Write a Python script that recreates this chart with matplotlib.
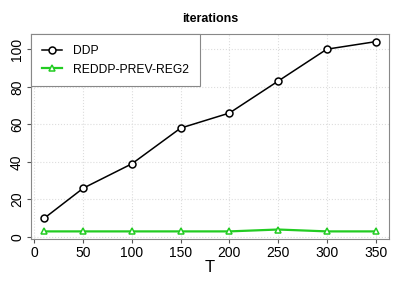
import numpy as np
import matplotlib
matplotlib.use('Agg')
import matplotlib.pyplot as plt

plt.rcParams['font.family'] = ['Liberation Sans', 'DejaVu Sans']

T = [10, 50, 100, 150, 200, 250, 300, 350]
ddp = [10, 26, 39, 58, 66, 83, 100, 104]
reddp = [3, 3, 3, 3, 3, 4, 3, 3]
xticks = [0, 50, 100, 150, 200, 250, 300, 350]
yticks = [0, 20, 40, 60, 80, 100]

fig = plt.figure(figsize=(4.05, 2.84), dpi=100)
ax = fig.add_axes([0.0765, 0.1585, 0.8835, 0.7215])

ax.plot(T, ddp, '-o', color='black', lw=1.1, ms=5, mfc='white', mec='black', mew=1.1, label='DDP')
ax.plot(T, reddp, '-^', color='#22cc22', lw=1.6, ms=4, mfc='white', mec='#22cc22', mew=1.1,
        label='REDDP-PREV-REG2')

ax.set_xlim(-3.6, 363.6)
ax.set_ylim(-1.04, 108.04)
ax.set_xticks(xticks)
ax.set_yticks(yticks)
ax.tick_params(axis='both', labelsize=10, length=3, color='#555555', pad=2)
for lab in ax.get_yticklabels():
    lab.set_rotation(90)
    lab.set_va('center')
ax.grid(True, color='#dddddd', linestyle=':', lw=0.8)
ax.set_axisbelow(True)
for s in ax.spines.values():
    s.set_color('#888888')

ax.set_xlabel('T', fontsize=12, labelpad=0)
ax.set_title('iterations', fontsize=9, fontweight='bold', pad=9)

leg = ax.legend(loc='upper left', fontsize=8.7, borderaxespad=0, handlelength=1.7,
                handletextpad=0.9, fancybox=False, framealpha=1, borderpad=0.9,
                labelspacing=0.55)
leg.get_frame().set_edgecolor('#888888')
leg.get_frame().set_linewidth(0.8)

fig.savefig('out.png', dpi=100)
